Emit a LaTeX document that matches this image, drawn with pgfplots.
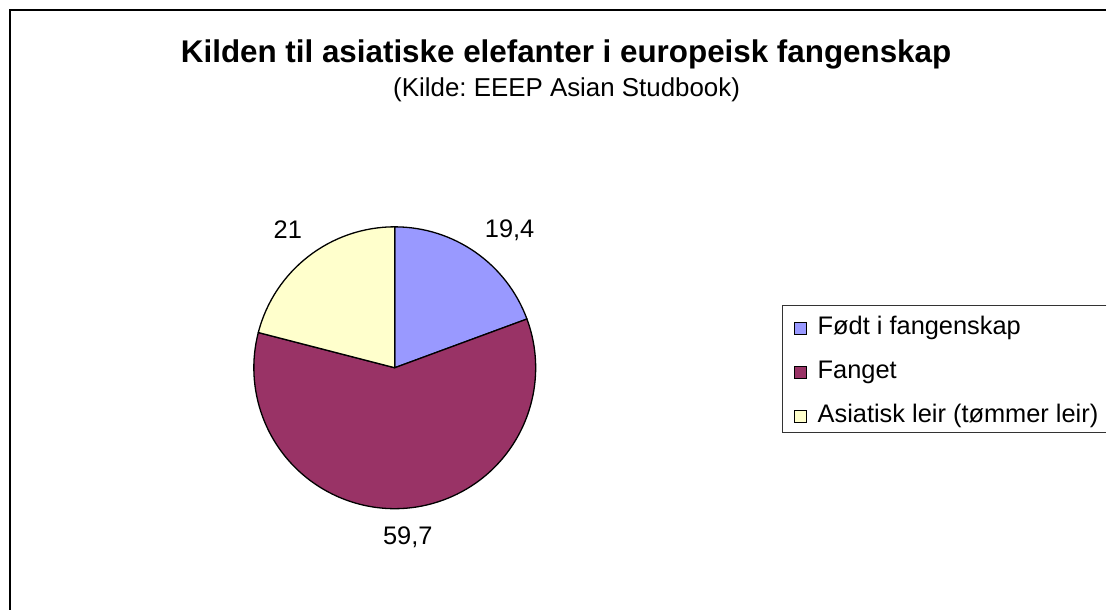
\documentclass[border=0pt]{standalone}
\usepackage{pgfplots}
\pgfplotsset{compat=1.18}
\usepackage{pgfplotstable}
\usepackage{fontspec}
\setmainfont{Liberation Sans}
\frenchspacing

\definecolor{pieblue}{HTML}{9999FF}
\definecolor{piepurple}{HTML}{993366}
\definecolor{pieyellow}{HTML}{FFFFCC}

\pgfplotstableread[col sep=comma]{
name,value
Født i fangenskap,19.4
Fanget,59.7
Asiatisk leir (tømmer leir),21
}\piedata

\begin{document}
\begin{tikzpicture}
% values and angles (start at 12 o'clock, clockwise)
\pgfplotstablegetelem{0}{value}\of\piedata \pgfmathsetmacro\vA{\pgfplotsretval}
\pgfplotstablegetelem{1}{value}\of\piedata \pgfmathsetmacro\vB{\pgfplotsretval}
\pgfplotstablegetelem{2}{value}\of\piedata \pgfmathsetmacro\vC{\pgfplotsretval}
\pgfplotstablegetelem{0}{name}\of\piedata \let\nA\pgfplotsretval
\pgfplotstablegetelem{1}{name}\of\piedata \let\nB\pgfplotsretval
\pgfplotstablegetelem{2}{name}\of\piedata \let\nC\pgfplotsretval
\pgfmathsetmacro\tot{\vA+\vB+\vC}
\pgfmathsetmacro\angA{90}
\pgfmathsetmacro\angB{\angA-360*(\vA/\tot)}
\pgfmathsetmacro\angC{\angB-360*(\vB/\tot)}
\pgfmathsetmacro\angD{\angC-360*(\vC/\tot)}

\begin{axis}[
    x=1bp, y=1bp,
    xmin=0, xmax=1107,
    ymin=0, ymax=610,
    hide axis,
    clip=false,
]
\path (axis cs:0,0) rectangle (axis cs:1107,610);

% outer frame
\draw[line width=1.5bp] (axis cs:10,0) -- (axis cs:10,600) -- (axis cs:1107,600);

% title
\node[anchor=base, font=\fontsize{31.5}{36}\selectfont\bfseries]
    at (axis cs:566.5,547) {Kilden til asiatiske elefanter i europeisk fangenskap};
\node[anchor=base, font=\fontsize{26}{30}\selectfont]
    at (axis cs:567,513) {(Kilde: EEEP Asian Studbook)};

% pie slices
\filldraw[fill=pieblue, draw=black, line width=1.3bp, line join=round]
    (axis cs:395,242) -- ++(\angA:141bp) arc[start angle=\angA, end angle=\angB, radius=141bp] -- cycle;
\filldraw[fill=piepurple, draw=black, line width=1.3bp, line join=round]
    (axis cs:395,242) -- ++(\angB:141bp) arc[start angle=\angB, end angle=\angC, radius=141bp] -- cycle;
\filldraw[fill=pieyellow, draw=black, line width=1.3bp, line join=round]
    (axis cs:395,242) -- ++(\angC:141bp) arc[start angle=\angC, end angle=\angD, radius=141bp] -- cycle;

% data labels
\node[font=\fontsize{25.5}{30}\selectfont] at (axis cs:510,380)
    {\pgfmathprintnumber[use comma, assume math mode=true]{\vA}};
\node[font=\fontsize{25.5}{30}\selectfont] at (axis cs:408,72)
    {\pgfmathprintnumber[use comma, assume math mode=true]{\vB}};
\node[font=\fontsize{25.5}{30}\selectfont] at (axis cs:288,380)
    {\pgfmathprintnumber[use comma, assume math mode=true]{\vC}};

% legend
\draw[line width=1bp, black!80] (axis cs:1107,304) -- (axis cs:783,304) -- (axis cs:783,177) -- (axis cs:1107,177);
\filldraw[fill=pieblue, draw=black, line width=0.8bp] (axis cs:795,275) rectangle (axis cs:807,287);
\filldraw[fill=piepurple, draw=black, line width=0.8bp] (axis cs:795,231) rectangle (axis cs:807,243);
\filldraw[fill=pieyellow, draw=black, line width=0.8bp] (axis cs:795,187) rectangle (axis cs:807,199);
\node[anchor=base west, inner sep=0pt, font=\fontsize{25.5}{30}\selectfont] at (axis cs:818,275) {\nA};
\node[anchor=base west, inner sep=0pt, font=\fontsize{25.5}{30}\selectfont] at (axis cs:818,231) {\nB};
\node[anchor=base west, inner sep=0pt, font=\fontsize{25.5}{30}\selectfont] at (axis cs:818,187) {\nC};
\end{axis}
\end{tikzpicture}
\end{document}
